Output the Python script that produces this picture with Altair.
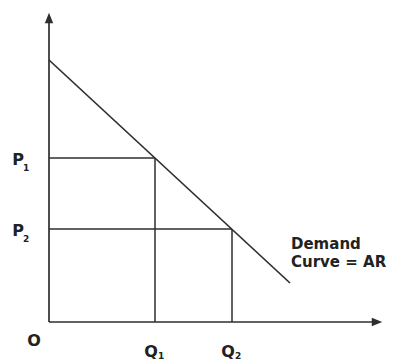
import altair as alt
import pandas as pd

# Demand curve end points (quantity, price)
demand_q = [0.0, 24.1]
demand_p = [26.2, 3.9]

# Marked points on the demand curve
point_names = ["1", "2"]
point_q = [10.6, 18.3]
point_p = [16.4, 9.3]

# Lengths of the two axes
x_axis_end = 32.8
y_axis_end = 30.4

INK = "#2e2e2e"
FONT = "DejaVu Sans"

x_scale = alt.Scale(domain=[-4.9, 34.7], nice=False, zero=False)
y_scale = alt.Scale(domain=[-3.9, 32.2], nice=False, zero=False)
X = lambda f: alt.X(f, type="quantitative", scale=x_scale, axis=None)
Y = lambda f: alt.Y(f, type="quantitative", scale=y_scale, axis=None)

demand = pd.DataFrame({"q": demand_q, "p": demand_p})
pts = pd.DataFrame({"name": point_names, "q": point_q, "p": point_p,
                    "zero": [0.0, 0.0]})
axes = pd.DataFrame({"x0": [0.0, 0.0], "x1": [x_axis_end, 0.0],
                     "y0": [0.0, 0.0], "y1": [0.0, y_axis_end]})

axis_lines = alt.Chart(axes).mark_rule(color=INK, strokeWidth=1.7).encode(
    x=X("x0"), x2="x1", y=Y("y0"), y2="y1")

# Arrowheads at the ends of both axes
arrow_x = alt.Chart(pd.DataFrame({"x": [x_axis_end], "y": [0.0]})).mark_point(
    shape="M-1,-0.8L1,0L-1,0.8Z", filled=True, color=INK, size=110, opacity=1,
    strokeWidth=0
).encode(x=X("x"), y=Y("y"))
arrow_y = alt.Chart(pd.DataFrame({"x": [0.0], "y": [y_axis_end]})).mark_point(
    shape="M-0.8,1L0,-1L0.8,1Z", filled=True, color=INK, size=110, opacity=1,
    strokeWidth=0
).encode(x=X("x"), y=Y("y"))

demand_line = alt.Chart(demand).mark_line(color=INK, strokeWidth=1.7).encode(
    x=X("q"), y=Y("p"))

h_guides = alt.Chart(pts).mark_rule(color=INK, strokeWidth=1.5).encode(
    x=X("zero"), x2="q", y=Y("p"))
v_guides = alt.Chart(pts).mark_rule(color=INK, strokeWidth=1.5).encode(
    x=X("q"), y=Y("zero"), y2="p")

txt = dict(font=FONT, fontWeight="bold", color="#222222")

p_main = alt.Chart(pts).mark_text(fontSize=16, dx=-31, dy=2, baseline="middle",
                                  align="center", **txt).encode(
    x=X("zero"), y=Y("p"), text=alt.value("P"))
p_sub = alt.Chart(pts).mark_text(fontSize=9, dx=-23, dy=10, baseline="middle",
                                 align="center", **txt).encode(
    x=X("zero"), y=Y("p"), text="name:N")
q_main = alt.Chart(pts).mark_text(fontSize=16, dx=-4, dy=30, baseline="middle",
                                  align="center", **txt).encode(
    x=X("q"), y=Y("zero"), text=alt.value("Q"))
q_sub = alt.Chart(pts).mark_text(fontSize=9, dx=6, dy=34, baseline="middle",
                                 align="center", **txt).encode(
    x=X("q"), y=Y("zero"), text="name:N")
origin = alt.Chart(pd.DataFrame({"x": [0.0], "y": [0.0]})).mark_text(
    fontSize=16, dx=-15, dy=19, baseline="middle", align="center", **txt
).encode(x=X("x"), y=Y("y"), text=alt.value("O"))

end = pd.DataFrame({"q": [demand_q[-1]], "p": [demand_p[-1]]})
label1 = alt.Chart(end).mark_text(fontSize=15, dx=1, dy=-34, align="left",
                                  baseline="alphabetic", **txt).encode(
    x=X("q"), y=Y("p"), text=alt.value("Demand"))
label2 = alt.Chart(end).mark_text(fontSize=15, dx=1, dy=-16, align="left",
                                  baseline="alphabetic", **txt).encode(
    x=X("q"), y=Y("p"), text=alt.value("Curve = AR"))

chart = alt.layer(
    axis_lines, arrow_x, arrow_y, h_guides, v_guides, demand_line,
    p_main, p_sub, q_main, q_sub, origin, label1, label2
).properties(
    width=396, height=361, autosize=alt.AutoSizeParams(type="none"),
    padding=0, background="white"
).configure_view(stroke=None)

chart.save("out.html", embed_options={"renderer": "svg", "actions": False})
